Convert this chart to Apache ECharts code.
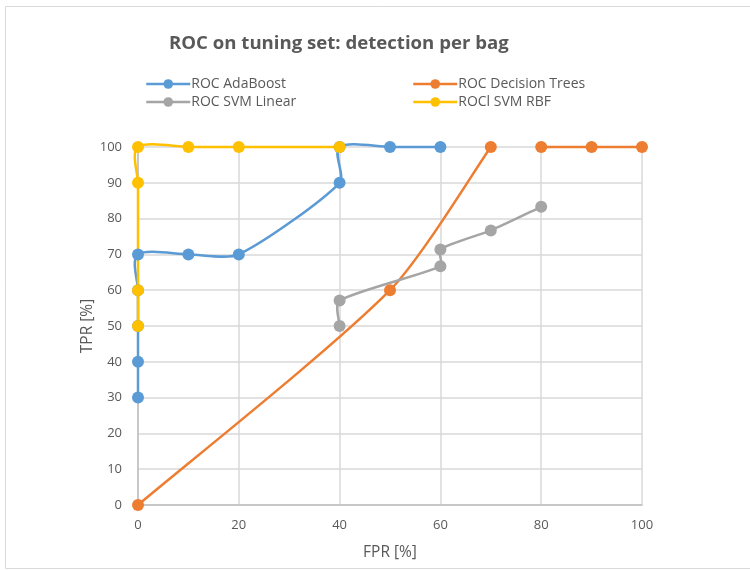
<!DOCTYPE html>
<html>
<head>
<meta charset="utf-8">
<script src="https://cdn.jsdelivr.net/npm/echarts@6/dist/echarts.min.js"></script>
<style>html,body{margin:0;padding:0;background:#fff}#c{width:750px;height:570px}</style>
</head>
<body>
<div id="c"></div>
<script>
const seriesNames = ['ROC AdaBoost', 'ROC Decision Trees', 'ROC SVM Linear', 'ROCl SVM RBF'];
const colors = ['#5b9bd5', '#ed7d31', '#a5a5a5', '#ffc000'];
const adaBoost = [[0,30],[0,40],[0,50],[0,60],[0,70],[10,70],[20,70],[40,90],[40,100],[50,100],[60,100]];
const decisionTrees = [[0,0],[50,60],[70,100],null,[80,100],[90,100],[100,100]];
const svmLinear = [[40,50],[40,57.1],[60,66.7],[60,71.4],[70,76.7],[80,83.3]];
const svmRbf = [[0,50],[0,60],[0,90],[0,100],[10,100],[20,100],[40,100]];
const allData = [adaBoost, decisionTrees, svmLinear, svmRbf];
const xTicks = [0, 20, 40, 60, 80, 100];
const yTicks = [0, 10, 20, 30, 40, 50, 60, 70, 80, 90, 100];

const font = 'Open Sans';
const textColor = '#595959';
const legendPos = [[145, 77], [412, 77], [145, 95], [412, 95]];

// Spreadsheet-style smoothed curve built from the data through the axis scales
function arm(a, b, segLen) {
  let vx = (b[0] - a[0]) / 6, vy = (b[1] - a[1]) / 6;
  const len = Math.hypot(vx, vy), cap = 0.25 * segLen;
  if (len > cap && len > 0) { vx *= cap / len; vy *= cap / len; }
  return [vx, vy];
}
function curvePieces(p, color, out) {
  const n = p.length;
  for (let i = 0; i < n - 1; i++) {
    const p0 = p[Math.max(i - 1, 0)], p1 = p[i], p2 = p[i + 1], p3 = p[Math.min(i + 2, n - 1)];
    const seg = Math.hypot(p2[0] - p1[0], p2[1] - p1[1]);
    const a1 = arm(p0, p2, seg), a2 = arm(p1, p3, seg);
    out.push({
      type: 'bezierCurve',
      shape: {
        x1: p1[0], y1: p1[1], x2: p2[0], y2: p2[1],
        cpx1: p1[0] + a1[0], cpy1: p1[1] + a1[1],
        cpx2: p2[0] - a2[0], cpy2: p2[1] - a2[1]
      },
      style: { stroke: color, lineWidth: 2.5, fill: null, lineCap: 'round' }
    });
  }
}
function smoothRender(data, color) {
  return function (params, api) {
    if (params.dataIndex !== 0) return null;
    const children = [];
    let run = [];
    data.forEach(d => {
      if (d === null) { curvePieces(run, color, children); run = []; }
      else run.push(api.coord(d));
    });
    curvePieces(run, color, children);
    return { type: 'group', children: children };
  };
}

const series = [];
seriesNames.forEach((n, i) => {
  series.push({
    name: n, type: 'line',
    data: allData[i].map(d => d === null ? ['-', '-'] : d),
    symbol: 'circle', symbolSize: 12,
    color: colors[i],
    lineStyle: { width: 2.5, color: colors[i], opacity: 0 },
    itemStyle: { color: colors[i] },
    z: 5 + i
  });
});
seriesNames.forEach((n, i) => {
  series.push({
    name: n, type: 'custom',
    data: allData[i].filter(d => d !== null),
    encode: { x: 0, y: 1 },
    renderItem: smoothRender(allData[i], colors[i]),
    silent: true,
    z: 1 + i
  });
});

const chart = echarts.init(document.getElementById('c'));
chart.setOption({
  animation: false,
  title: {
    text: 'ROC on tuning set: detection per bag',
    left: 164, top: 29,
    textStyle: { fontFamily: font, fontSize: 18.6, fontWeight: 'bold', color: textColor }
  },
  legend: seriesNames.map((n, i) => ({
    data: [n], left: legendPos[i][0], top: legendPos[i][1],
    itemWidth: 44, itemHeight: 12, itemGap: 0,
    lineStyle: { opacity: 1, width: 2.5 },
    textStyle: { fontFamily: font, fontSize: 14, color: textColor, padding: [0, 0, 0, -4] },
    padding: 0
  })),
  graphic: [
    { type: 'polyline', shape: { points: [[750, 6.5], [5.5, 6.5], [5.5, 568.5], [750, 568.5]] }, style: { stroke: '#d9d9d9', lineWidth: 1, fill: null } }
  ],
  grid: { left: 138, right: 108, top: 147, bottom: 65 },
  xAxis: {
    type: 'value', min: 0, max: 100, interval: 20,
    name: 'FPR [%]', nameLocation: 'middle', nameGap: 40, nameMoveOverlap: false,
    nameTextStyle: { fontFamily: font, fontSize: 15.5, color: textColor },
    axisLine: { show: true, lineStyle: { color: '#bfbfbf', width: 1.5 } },
    axisTick: { show: false },
    axisLabel: { fontFamily: font, fontSize: 13, color: textColor, margin: 14, customValues: xTicks },
    splitLine: { lineStyle: { color: '#d9d9d9', width: 1.5 } }
  },
  yAxis: {
    type: 'value', min: 0, max: 100, interval: 10,
    name: 'TPR [%]', nameLocation: 'middle', nameGap: 42, nameRotate: 90, nameMoveOverlap: false,
    nameTextStyle: { fontFamily: font, fontSize: 15.5, color: textColor },
    axisLine: { show: true, lineStyle: { color: '#bfbfbf', width: 1.5 } },
    axisTick: { show: false },
    axisLabel: { fontFamily: font, fontSize: 13, color: textColor, margin: 16, customValues: yTicks },
    splitLine: { lineStyle: { color: '#d9d9d9', width: 1.5 } }
  },
  series: series
});
</script>
</body>
</html>
